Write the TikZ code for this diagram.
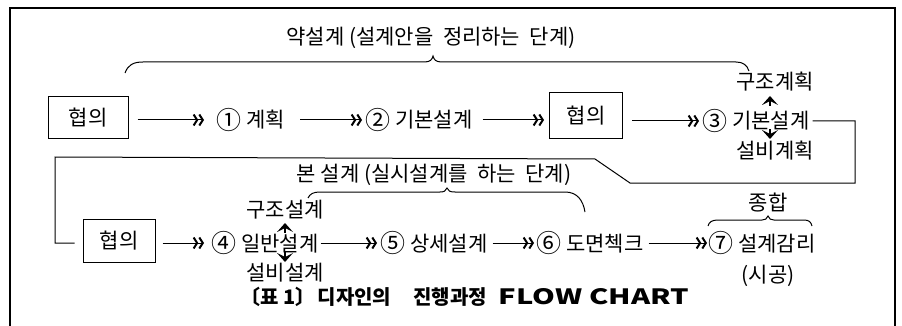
\documentclass[tikz,border=0pt]{standalone}
\usepackage{fontspec}
\newfontfamily\kr{Noto Sans CJK KR}
\usetikzlibrary{arrows.meta}
\newcommand\cnum[1]{\raisebox{-1.5pt}{\fontsize{25}{25}\selectfont #1}\hspace{5pt}}
\begin{document}
\begin{tikzpicture}[x=1pt,y=-1pt,
  every node/.style={font=\kr\fontsize{21}{24}\selectfont, inner sep=0pt},
  ln/.style={line width=1pt},
  box/.style={draw, line width=1pt, minimum width=80pt, minimum height=42pt},
  flow/.style={line width=1pt, -{Straight Barb[length=3.5pt,width=11pt,line width=2pt]Straight Barb[length=3.5pt,width=11pt,line width=2pt]}},
  lbl/.style={anchor=west},
  captxt/.style={font=\kr\bfseries\fontsize{20}{22}\selectfont},
  upchev/.pic={\fill (-8,5) -- (0,-4) -- (8,5) -- (0,1) -- cycle; \draw[line width=1.6pt] (0,1) -- (0,6);},
  dnchev/.pic={\fill (-8,-5) -- (0,4) -- (8,-5) -- (0,-1) -- cycle; \draw[line width=1.6pt] (0,-1) -- (0,-6);},
]
\useasboundingbox (0,0) rectangle (902,326);
\draw[line width=1.2pt] (10,326) -- (10,8) -- (895,8) -- (895,326);

% row 1
\node[box] (bA) at (88,118) {협의};
\node[lbl] (n1) at (216,120) {\cnum{①}계획};
\node[lbl] (n2) at (365,120) {\cnum{②}기본설계};
\node[box, minimum width=73pt, minimum height=46pt] (bB) at (586,116) {협의};
\node[lbl] (n3) at (702,121) {\cnum{③}기본설계};
\node (up1) at (775,82) {구조계획};
\node (dn1) at (775,151) {설비계획};

\draw[flow] ([xshift=9pt]bA.east |- n1.west) -- ([xshift=-12pt]n1.west);
\draw[flow] ([xshift=15pt]n1.east) -- ([xshift=-3pt]n2.west);
\draw[flow] ([xshift=10pt]n2.east) -- ([xshift=-5pt]bB.west |- n2.west);
\draw[flow] ([xshift=9pt]bB.east |- n3.west) -- ([xshift=-3pt]n3.west);
\pic at (770,100) {upchev};
\pic at (770,135) {dnchev};

% top brace and label
\node (t1) at (431,38) {약설계 (설계안을\ \ 정리하는\ \ 단계)};
\draw[ln] (125,73) .. controls (128,65) and (133,62) .. (143,62) -- (424,62)
  .. controls (430,62) and (432,60) .. (433,56) .. controls (434,60) and (436,62) .. (442,62)
  -- (736,62) .. controls (743,62) and (747,65) .. (749,71);

% link down to row 2
\coordinate (k1) at (855,183);
\coordinate (k2) at (630,183);
\coordinate (k3) at (595,159);
\coordinate (k4) at (55,157);

% row 2
\node[box, minimum width=72pt, minimum height=43pt] (bC) at (119,241) {협의};
\node[lbl] (n4) at (211,243) {\cnum{④}일반설계};
\node[lbl] (n5) at (380,243) {\cnum{⑤}상세설계};
\node[lbl] (n6) at (536,243) {\cnum{⑥}도면첵크};
\node[lbl] (n7) at (708,243) {\cnum{⑦}설계감리};
\node (up2) at (285,210) {구조설계};
\node (dn2) at (285,273) {설비설계};
\node (n7b) at (768,276) {(시공)};
\node (top7) at (768,203) {종합};

\draw[ln] (n3.east) ++(3,0) -| (k1) -- (k2) -- (k3) -- (k4) |- ([xshift=-8pt]bC.west |- n4.west);

\draw[flow] ([xshift=7pt]bC.east |- n4.west) -- ([xshift=-7pt]n4.west);
\draw[flow] ([xshift=2pt]n4.east) -- ([xshift=-3pt]n5.west);
\draw[flow] ([xshift=5pt]n5.east) -- ([xshift=-2pt]n6.west);
\draw[flow] ([xshift=5pt]n6.east) -- ([xshift=-1pt]n7.west);
\pic at (285,227) {upchev};
\pic at (285,258) {dnchev};

\node (t2) at (434,175) {본 설계 (실시설계를\ \ 하는\ \ 단계)};
\draw[ln] (308,198) .. controls (310,194) and (313,192) .. (320,192) -- (440,192)
  .. controls (444,192) and (446,191) .. (447,188) .. controls (448,191) and (450,192) .. (455,192)
  -- (565,192) .. controls (577,192) and (583,200) .. (585,212);

\draw[ln] (708,226) .. controls (709,222) and (712,220) .. (718,220) -- (762,220)
  .. controls (765,220) and (767,219) .. (768,216) .. controls (769,219) and (771,220) .. (774,220)
  -- (804,220) .. controls (809,220) and (811,222) .. (812,226);

\node[captxt, anchor=west] (capt) at (240,297) {〔표\hspace{5pt}1〕\hspace{2pt}디자인의\hspace{22pt}진행과정\hspace{12pt}\resizebox{190pt}{16pt}{FLOW CHART}};
\end{tikzpicture}
\end{document}
